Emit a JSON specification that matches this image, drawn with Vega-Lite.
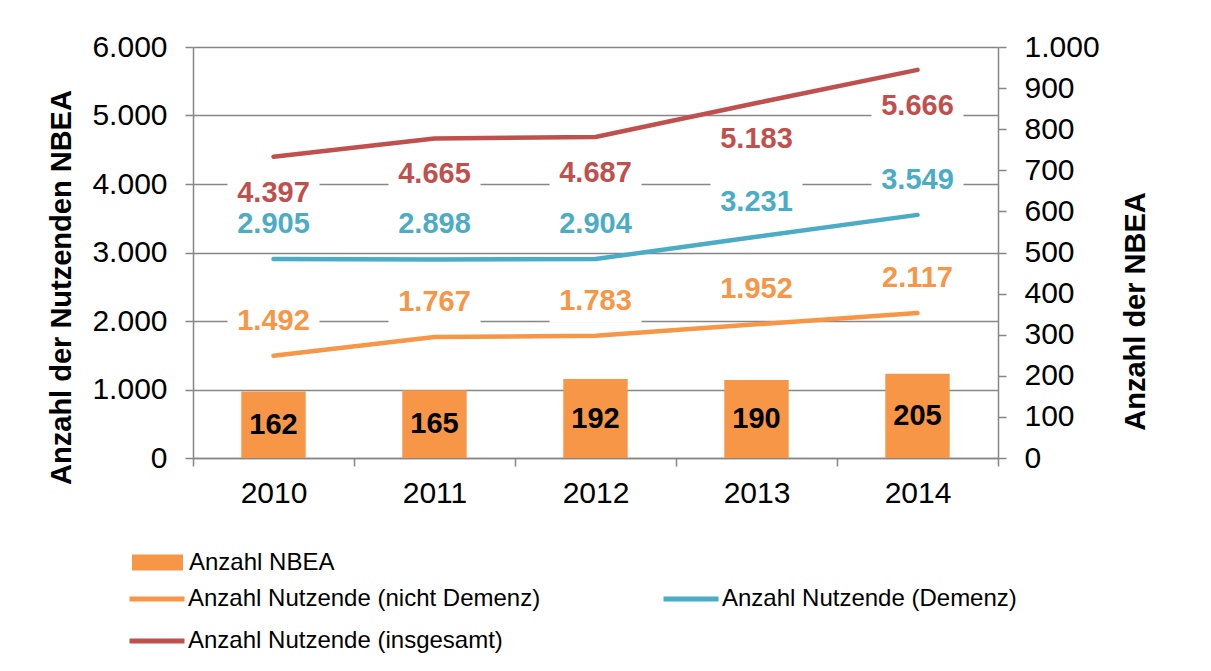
{
  "$schema": "https://vega.github.io/schema/vega-lite/v6.json",
  "autosize": {"type": "none"},
  "width": 805,
  "height": 411,
  "padding": {"left": 193, "top": 47, "right": 213, "bottom": 213},
  "background": "white",
  "datasets": {
    "bars": [
      {"Jahr": "2010", "Reihe": "Anzahl NBEA", "Anzahl": 162},
      {"Jahr": "2011", "Reihe": "Anzahl NBEA", "Anzahl": 165},
      {"Jahr": "2012", "Reihe": "Anzahl NBEA", "Anzahl": 192},
      {"Jahr": "2013", "Reihe": "Anzahl NBEA", "Anzahl": 190},
      {"Jahr": "2014", "Reihe": "Anzahl NBEA", "Anzahl": 205}
    ],
    "lines": [
      {"Jahr": "2010", "Reihe": "Anzahl Nutzende (nicht Demenz)", "Wert": 1492},
      {"Jahr": "2011", "Reihe": "Anzahl Nutzende (nicht Demenz)", "Wert": 1767},
      {"Jahr": "2012", "Reihe": "Anzahl Nutzende (nicht Demenz)", "Wert": 1783},
      {"Jahr": "2013", "Reihe": "Anzahl Nutzende (nicht Demenz)", "Wert": 1952},
      {"Jahr": "2014", "Reihe": "Anzahl Nutzende (nicht Demenz)", "Wert": 2117},
      {"Jahr": "2010", "Reihe": "Anzahl Nutzende (Demenz)", "Wert": 2905},
      {"Jahr": "2011", "Reihe": "Anzahl Nutzende (Demenz)", "Wert": 2898},
      {"Jahr": "2012", "Reihe": "Anzahl Nutzende (Demenz)", "Wert": 2904},
      {"Jahr": "2013", "Reihe": "Anzahl Nutzende (Demenz)", "Wert": 3231},
      {"Jahr": "2014", "Reihe": "Anzahl Nutzende (Demenz)", "Wert": 3549},
      {"Jahr": "2010", "Reihe": "Anzahl Nutzende (insgesamt)", "Wert": 4397},
      {"Jahr": "2011", "Reihe": "Anzahl Nutzende (insgesamt)", "Wert": 4665},
      {"Jahr": "2012", "Reihe": "Anzahl Nutzende (insgesamt)", "Wert": 4687},
      {"Jahr": "2013", "Reihe": "Anzahl Nutzende (insgesamt)", "Wert": 5183},
      {"Jahr": "2014", "Reihe": "Anzahl Nutzende (insgesamt)", "Wert": 5666}
    ]
  },
  "encoding": {
    "x": {
      "field": "Jahr",
      "type": "ordinal",
      "scale": {"paddingInner": 0, "paddingOuter": 0},
      "axis": {
        "title": null,
        "labelAngle": 0,
        "tickBand": "extent",
        "tickSize": 8,
        "labelPadding": 12,
        "labelFontSize": 30,
        "domainColor": "#868686",
        "domainWidth": 1.5,
        "tickColor": "#868686",
        "tickWidth": 1.5,
        "grid": false
      }
    }
  },
  "layer": [
    {
      "data": {"name": "bars"},
      "layer": [
        {
          "mark": {"type": "bar", "width": {"band": 0.4}},
          "encoding": {
            "y": {
              "field": "Anzahl",
              "type": "quantitative",
              "scale": {"domain": [0, 1000], "nice": false},
              "axis": {
                "orient": "right",
                "title": "Anzahl der NBEA",
                "values": [0, 100, 200, 300, 400, 500, 600, 700, 800, 900, 1000],
                "format": ",d",
                "grid": false,
                "labelFontSize": 30,
                "labelPadding": 18,
                "tickSize": 8,
                "domainColor": "#868686",
                "domainWidth": 1.5,
                "tickColor": "#868686",
                "tickWidth": 1.5,
                "titleFontSize": 29,
                "titleFontWeight": "bold",
                "titleAngle": 270,
                "titleX": 137,
                "titleY": 264,
                "titleAlign": "center",
                "titleBaseline": "middle"
              }
            },
            "fill": {
              "field": "Reihe",
              "type": "nominal",
              "scale": {"range": ["#F79646"]},
              "legend": {
                "title": null,
                "orient": "none",
                "legendX": -61,
                "legendY": 490,
                "symbolType": "M-1,-0.31L1,-0.31L1,0.31L-1,0.31Z",
                "symbolSize": 2601,
                "symbolStrokeWidth": 0,
                "labelFontSize": 24,
                "labelOffset": 6,
                "labelLimit": 600
              }
            }
          }
        },
        {
          "mark": {"type": "text", "fontSize": 29, "fontWeight": "bold", "color": "black", "baseline": "middle"},
          "encoding": {
            "y": {"field": "Anzahl", "type": "quantitative", "scale": {"domain": [0, 2000], "nice": false}, "axis": null},
            "text": {"field": "Anzahl", "type": "quantitative", "format": ",d"}
          }
        }
      ],
      "resolve": {"scale": {"y": "independent"}}
    },
    {
      "data": {"name": "lines"},
      "encoding": {
        "y": {
          "field": "Wert",
          "type": "quantitative",
          "scale": {"domain": [0, 6000], "nice": false},
          "axis": {
            "orient": "left",
            "title": "Anzahl der Nutzenden NBEA",
            "values": [0, 1000, 2000, 3000, 4000, 5000, 6000],
            "format": ",d",
            "grid": true,
            "gridColor": "#868686",
            "gridWidth": 1.5,
            "labelFontSize": 30,
            "labelPadding": 18,
            "tickSize": 8,
            "domainColor": "#868686",
            "domainWidth": 1.5,
            "tickColor": "#868686",
            "tickWidth": 1.5,
            "titleFontSize": 29,
            "titleFontWeight": "bold",
            "titleAngle": 270,
            "titleX": -132,
            "titleY": 240,
            "titleAlign": "center",
            "titleBaseline": "middle"
          }
        }
      },
      "layer": [
        {
          "mark": {"type": "line", "strokeWidth": 4.5, "strokeCap": "round"},
          "encoding": {
            "stroke": {
              "field": "Reihe",
              "type": "nominal",
              "scale": {
                "domain": ["Anzahl Nutzende (nicht Demenz)", "Anzahl Nutzende (Demenz)", "Anzahl Nutzende (insgesamt)"],
                "range": ["#F79646", "#4BACC6", "#C0504D"]
              },
              "legend": {
                "title": null,
                "orient": "none",
                "direction": "horizontal",
                "legendX": -66,
                "legendY": 522,
                "columns": 2,
                "columnPadding": 112,
                "rowPadding": -7,
                "symbolType": "stroke",
                "symbolSize": 3025,
                "symbolStrokeWidth": 5,
                "labelFontSize": 24,
                "labelOffset": 1,
                "labelLimit": 600
              }
            }
          }
        },
        {
          "transform": [{"filter": "datum.Reihe == 'Anzahl Nutzende (insgesamt)'"}],
          "layer": [
            {
              "mark": {"type": "point", "shape": "M-1,-0.478L1,-0.478L1,0.478L-1,0.478Z", "size": 8464, "filled": true, "fill": "white", "strokeWidth": 0, "opacity": 1, "yOffset": 36},
              "encoding": {}
            },
            {
              "mark": {"type": "text", "fontSize": 29, "fontWeight": "bold", "color": "#C0504D", "baseline": "middle", "dy": 36},
              "encoding": {"text": {"field": "Wert", "type": "quantitative", "format": ",d"}}
            }
          ]
        },
        {
          "transform": [{"filter": "datum.Reihe != 'Anzahl Nutzende (insgesamt)'"}],
          "layer": [
            {
              "mark": {"type": "point", "shape": "M-1,-0.478L1,-0.478L1,0.478L-1,0.478Z", "size": 8464, "filled": true, "fill": "white", "strokeWidth": 0, "opacity": 1, "yOffset": -35},
              "encoding": {}
            },
            {
              "mark": {"type": "text", "fontSize": 29, "fontWeight": "bold", "baseline": "middle", "dy": -35},
              "encoding": {
                "text": {"field": "Wert", "type": "quantitative", "format": ",d"},
                "fill": {
                  "field": "Reihe",
                  "type": "nominal",
                  "scale": {
                    "domain": ["Anzahl Nutzende (nicht Demenz)", "Anzahl Nutzende (Demenz)"],
                    "range": ["#F79646", "#4BACC6"]
                  },
                  "legend": null
                }
              }
            }
          ]
        }
      ]
    }
  ],
  "resolve": {"scale": {"y": "independent", "fill": "independent"}, "legend": {"fill": "independent"}},
  "config": {
    "font": "Liberation Sans",
    "locale": {"number": {"decimal": ",", "thousands": ".", "grouping": [3], "currency": ["", " €"]}},
    "view": {"stroke": null},
    "axis": {"labelColor": "black", "titleColor": "black", "labelFont": "Liberation Sans", "titleFont": "Liberation Sans"},
    "legend": {"labelColor": "black", "labelFont": "Liberation Sans", "padding": 0},
    "text": {"font": "Liberation Sans"}
  }
}
